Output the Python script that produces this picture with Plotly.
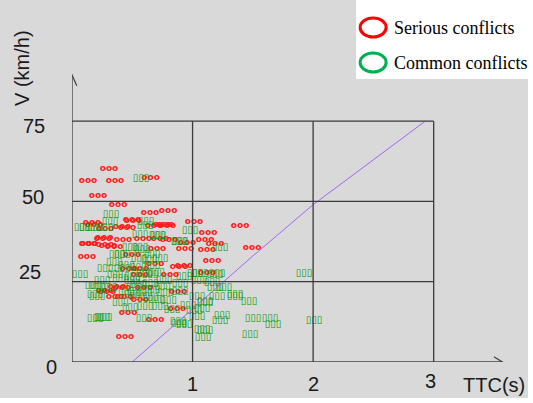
import plotly.graph_objects as go

# Serious conflicts (TTC s, V km/h)
serious_ttc = [0.307, 0.133, 0.357, 0.216, 0.382, 0.647, 0.797, 0.652, 1.012, 0.166, 0.498,
               0.274, 0.415, 0.456, 0.506, 0.747, 0.788, 1.129, 0.133, 0.257, 0.423, 0.299,
               0.589, 0.730, 0.954, 1.104, 1.187, 1.394, 1.120, 0.938, 1.494, 1.162, 0.929,
               1.120, 0.183, 0.680, 0.772, 0.266, 0.805, 0.141, 0.274, 0.349, 0.705, 0.498,
               0.124, 0.473, 0.564, 0.689, 0.564, 0.813, 0.888, 0.274, 0.373, 0.415, 0.598,
               0.357, 0.432, 0.564, 0.871, 0.465, 0.689, 0.440, 0.290, 0.880]
serious_v = [60.1, 56.3, 56.3, 51.7, 48.9, 46.4, 47.0, 57.3, 43.6, 43.3, 44.2,
             41.4, 42.0, 41.7, 43.9, 42.6, 42.3, 40.2, 36.7, 38.3, 38.0, 36.1,
             38.3, 38.3, 37.0, 38.0, 36.7, 42.3, 34.9, 35.2, 35.5, 31.4, 29.9,
             27.7, 42.6, 42.3, 42.6, 38.6, 38.0, 36.7, 36.4, 35.8, 35.2, 33.3,
             32.7, 29.0, 29.0, 30.5, 27.1, 27.1, 29.6, 22.1, 23.3, 23.0, 23.0,
             20.2, 20.2, 19.3, 16.5, 15.3, 13.1, 7.8, 21.8, 21.8]

# Common conflicts (TTC s, V km/h)
common_ttc = [0.573, 0.323, 0.315, 0.124, 0.191, 0.614, 0.979, 0.564, 0.714, 0.564, 0.896,
              1.228, 1.021, 1.187, 0.929, 1.054, 1.162, 1.925, 1.187, 1.261, 1.037, 1.203,
              1.353, 1.469, 1.104, 1.079, 1.012, 1.037, 1.245, 1.228, 1.502, 1.643, 1.668,
              2.008, 1.104, 1.087, 1.477, 0.929, 0.207, 0.307, 0.515, 0.664, 0.207, 0.539,
              0.647, 0.772, 0.481, 0.606, 0.730, 0.830, 0.191, 0.266, 0.598, 0.888, 0.896,
              0.083, 0.274, 0.606, 0.705, 0.481, 0.888, 0.373, 0.415, 0.581, 0.664, 0.556,
              0.639, 0.730, 0.066, 0.274, 0.415, 0.664, 0.357, 0.647, 0.249, 0.498, 0.763,
              0.174, 0.191, 0.249, 0.880, 0.963, 1.104, 0.896, 1.062, 1.203, 1.079, 1.353,
              0.35, 0.45, 0.55, 0.60, 0.50, 0.40, 0.70, 0.45, 0.55, 0.65, 0.75, 0.80,
              0.70, 0.60, 0.50, 0.40]
common_v = [57.3, 45.8, 43.9, 42.0, 42.0, 43.9, 40.8, 39.8, 39.5, 35.8, 37.4,
            35.8, 27.7, 27.4, 26.5, 25.5, 24.9, 27.7, 23.3, 23.3, 20.5, 20.5,
            20.5, 18.7, 18.4, 16.8, 15.9, 14.3, 14.6, 12.8, 13.4, 13.7, 11.8,
            12.8, 9.7, 7.5, 8.7, 11.8, 23.7, 23.3, 23.3, 22.7, 20.5, 20.5,
            20.2, 21.5, 17.1, 17.4, 17.4, 16.5, 13.7, 14.0, 13.7, 12.1, 22.1,
            42.0, 42.0, 42.6, 39.5, 35.8, 37.4, 33.6, 33.6, 34.9, 33.6, 32.1,
            31.8, 32.1, 27.4, 29.0, 29.0, 30.2, 27.1, 27.1, 25.5, 25.5, 25.5,
            23.7, 20.9, 14.0, 12.5, 17.7, 18.7, 24.6, 27.7, 27.7, 10.0, 20.9,
            31.0, 30.0, 29.5, 27.5, 26.5, 26.0, 28.0, 22.0, 24.0, 24.5, 23.5, 19.0,
            19.5, 21.5, 21.0, 18.5]

# Boundary curve
line_ttc = [0.5, 1.0, 1.5, 2.0, 2.5, 2.93]
line_v = [0.0, 16.5, 33.0, 49.0, 63.0, 75.0]

x_ticks = [1, 2, 3]
y_ticks = [0, 25, 50, 75]

BG = "#d9d9d9"
GRID = "#3a3a3a"

L, T, PW, PH = 72, 73, 433.8, 289.0


def px(x):
    return (x - L) / PW


def py(y):
    return (T + PH - y) / PH


fig = go.Figure()

fig.add_trace(go.Scatter(
    x=serious_ttc, y=serious_v, mode="text", text=["ooo"] * len(serious_ttc),
    textfont=dict(size=9, color="#ff1a1a", family="DejaVu Sans", weight="bold"),
    showlegend=False, hoverinfo="skip"))
fig.add_trace(go.Scatter(
    x=common_ttc, y=common_v, mode="text", text=["▯▯▯"] * len(common_ttc),
    textfont=dict(size=10, color="#009900", family="DejaVu Sans", weight="bold"),
    showlegend=False, hoverinfo="skip"))
fig.add_trace(go.Scatter(
    x=line_ttc, y=line_v, mode="lines", line=dict(color="#a066f5", width=1),
    showlegend=False, hoverinfo="skip"))

shapes = []
for v in [25, 50, 75]:
    shapes.append(dict(type="line", xref="x", yref="y", x0=0, x1=3, y0=v, y1=v,
                       line=dict(color=GRID, width=1.3)))
for t in x_ticks:
    shapes.append(dict(type="line", xref="x", yref="y", x0=t, x1=t, y0=0, y1=75,
                       line=dict(color=GRID, width=1.3)))
shapes.append(dict(type="line", xref="x", yref="y", x0=0, x1=3.57, y0=0, y1=0,
                   line=dict(color="#404040", width=1.3)))
shapes.append(dict(type="line", xref="x", yref="y", x0=0, x1=0, y0=0, y1=89.4,
                   line=dict(color="#404040", width=1.3)))
shapes.append(dict(type="path", xref="x", yref="y",
                   path="M 3.50,1.6 L 3.57,0 L 3.50,-1.6",
                   line=dict(color="#404040", width=1.2)))
shapes.append(dict(type="path", xref="x", yref="y",
                   path="M -0.04,86.0 L 0,89.4 L 0.04,86.0",
                   line=dict(color="#404040", width=1.2)))
# legend box
shapes.append(dict(type="rect", xref="paper", yref="paper", x0=px(356), x1=px(540),
                   y0=py(79), y1=py(-5), fillcolor="white", line=dict(width=0)))
shapes.append(dict(type="circle", xref="paper", yref="paper",
                   x0=px(360), x1=px(386), y0=py(37), y1=py(18),
                   line=dict(color="#ff0000", width=3)))
shapes.append(dict(type="circle", xref="paper", yref="paper",
                   x0=px(360), x1=px(386), y0=py(72), y1=py(53),
                   line=dict(color="#00b050", width=3)))

ann = []
lab_font = dict(family="Liberation Sans, Arial", size=20, color="#1a1a1a")
ylab_pos = {0: (52, 367), 25: (30, 272), 50: (33, 197), 75: (34, 126)}
for v in y_ticks:
    ax, ay = ylab_pos[v]
    ann.append(dict(x=px(ax), y=py(ay), xref="paper", yref="paper", text=str(v),
                    showarrow=False, font=lab_font, xanchor="center", yanchor="middle"))
xlab_pos = {1: (192, 384), 2: (313, 384), 3: (430, 381)}
for t in x_ticks:
    ax, ay = xlab_pos[t]
    ann.append(dict(x=px(ax), y=py(ay), xref="paper", yref="paper", text=str(t),
                    showarrow=False, font=lab_font, xanchor="center", yanchor="middle"))
ann.append(dict(x=px(494), y=py(385), xref="paper", yref="paper", text="TTC(s)",
                showarrow=False, font=lab_font, xanchor="center", yanchor="middle"))
ann.append(dict(x=px(22), y=py(68), xref="paper", yref="paper",
                text="V (km/h)", showarrow=False, textangle=-90, font=lab_font,
                xanchor="center", yanchor="middle"))
leg_font = dict(family="Liberation Serif, Times New Roman", size=18, color="black")
ann.append(dict(x=px(392), y=py(28), xref="paper", yref="paper",
                text="Serious conflicts", showarrow=False, font=leg_font,
                xanchor="left", yanchor="middle"))
ann.append(dict(x=px(392), y=py(63), xref="paper", yref="paper",
                text="Common conflicts", showarrow=False, font=leg_font,
                xanchor="left", yanchor="middle"))

W, H = 528, 398
fig.update_layout(
    width=W, height=H,
    margin=dict(l=L, r=W - L - PW, t=T, b=H - T - PH),
    paper_bgcolor=BG, plot_bgcolor=BG,
    xaxis=dict(range=[0, 3.6], showgrid=False, zeroline=False, showticklabels=False,
               ticks="", showline=False),
    yaxis=dict(range=[0, 90], showgrid=False, zeroline=False, showticklabels=False,
               ticks="", showline=False),
    shapes=shapes, annotations=ann,
)

fig.write_html("out.html", config={"displayModeBar": False},
               post_script="document.body.style.margin='0';")
